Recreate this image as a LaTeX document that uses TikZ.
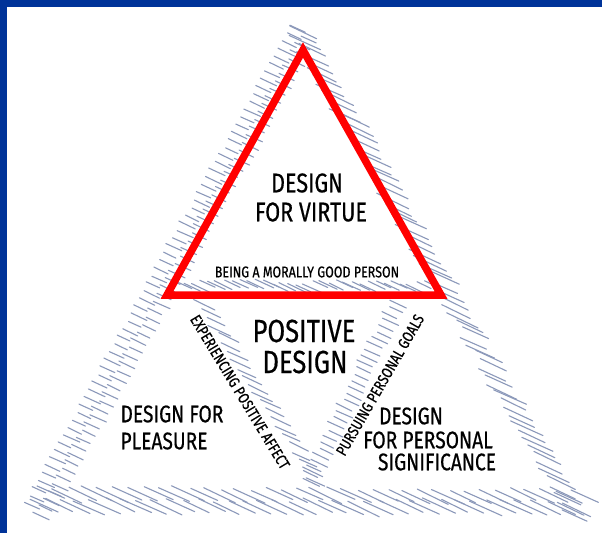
\documentclass[tikz,border=0pt]{standalone}
\usepackage{fontspec}
\newfontfamily\hand[FakeStretch=0.8,FakeBold=0.5]{Fira Sans}
\definecolor{frameblue}{RGB}{0,51,153}
\definecolor{hatchc}{RGB}{140,153,186}
\definecolor{virtuered}{RGB}{255,0,0}
% #1 #2 start, #3 #4 end, #5 jitter, #6 count, #7 half length, #8 row offset
\newcommand\hatchband[8]{%
  \pgfmathsetmacro\hbL{veclen(#3-#1,#4-#2)}%
  \pgfmathsetmacro\hbNx{-(#4-#2)/\hbL}%
  \pgfmathsetmacro\hbNy{(#3-#1)/\hbL}%
  \foreach \hbI in {1,...,#6}{%
    \pgfmathsetmacro\hbT{(\hbI-0.5+0.12*rand)/#6}%
    \pgfmathsetmacro\hbO{#8*(2*mod(\hbI,2)-1)+#5*rand}%
    \pgfmathsetmacro\hbH{#7*(1+0.15*rand)}%
    \pgfmathsetmacro\hbA{25+1.5*rand}%
    \pgfmathsetmacro\hbX{#1+(#3-#1)*\hbT+\hbNx*\hbO}%
    \pgfmathsetmacro\hbY{#2+(#4-#2)*\hbT+\hbNy*\hbO}%
    \pgfmathsetmacro\hbDx{\hbH*cos(\hbA)}%
    \pgfmathsetmacro\hbDy{\hbH*sin(\hbA)}%
    \draw[hatch] (\hbX-\hbDx,\hbY-\hbDy) -- (\hbX+\hbDx,\hbY+\hbDy);
  }%
}
\begin{document}
\begin{tikzpicture}[x=1pt,y=-1pt,
  hatch/.style={draw=hatchc,line width=1.1pt,line cap=round},
  redtri/.style={draw=virtuered,line width=7.5pt,line join=miter},
  bigtxt/.style={font=\hand\fontsize{27}{27}\selectfont,inner sep=0pt},
  postxt/.style={font=\hand\fontsize{32}{32}\selectfont,inner sep=0pt},
  midtxt/.style={font=\hand\fontsize{24}{24}\selectfont,inner sep=0pt},
  smalltxt/.style={font=\hand\fontsize{15.6}{16}\selectfont,inner sep=0pt}]
\useasboundingbox (0,0) rectangle (602,533);
\fill[white] (0,0) rectangle (602,533);
\fill[frameblue] (0,0) rectangle (602,7);
\fill[frameblue] (0,0) rectangle (7,533);
\pgfmathsetseed{11}
% outer left, outer right, bottom
\hatchband{305}{30}{35}{515}{2}{128}{8}{7}
\hatchband{300}{30}{578}{520}{4}{62}{16}{0}
\hatchband{40}{500}{588}{502}{2}{72}{16}{6}
% middle horizontal, inner left, inner right
\hatchband{180}{286}{436}{286}{3}{32}{9}{0}
\hatchband{203}{300}{320}{485}{3}{22}{11}{0}
\hatchband{399}{300}{308}{485}{3}{30}{8}{0}
% red triangle
\coordinate (rA) at (303,50);
\coordinate (rB) at (167,295);
\coordinate (rC) at (441,295);
\draw[redtri] (rA) -- (rB) -- (rC) -- cycle;
% texts
\node[bigtxt] (v1) at (307,183) {DESIGN};
\node[bigtxt] (v2) at (311,212) {FOR VIRTUE};
\node[smalltxt] (vsub) at (307,272) {BEING A MORALLY GOOD PERSON};
\node[postxt] (p1) at (304,331) {POSITIVE};
\node[postxt] (p2) at (305,362) {DESIGN};
\node[midtxt] (l1) at (172,414) {DESIGN FOR};
\node[midtxt] (l2) at (164,441) {PLEASURE};
\node[midtxt] (r1) at (411,416) {DESIGN};
\node[midtxt] (r2) at (428,440) {FOR PERSONAL};
\node[midtxt] (r3) at (437,462) {SIGNIFICANCE};
\node[smalltxt,rotate=-58.8] (eaff) at (240,392) {EXPERIENCING POSITIVE AFFECT};
\node[smalltxt,rotate=60] (pgoal) at (380,385) {PURSUING PERSONAL GOALS};
\end{tikzpicture}
\end{document}
